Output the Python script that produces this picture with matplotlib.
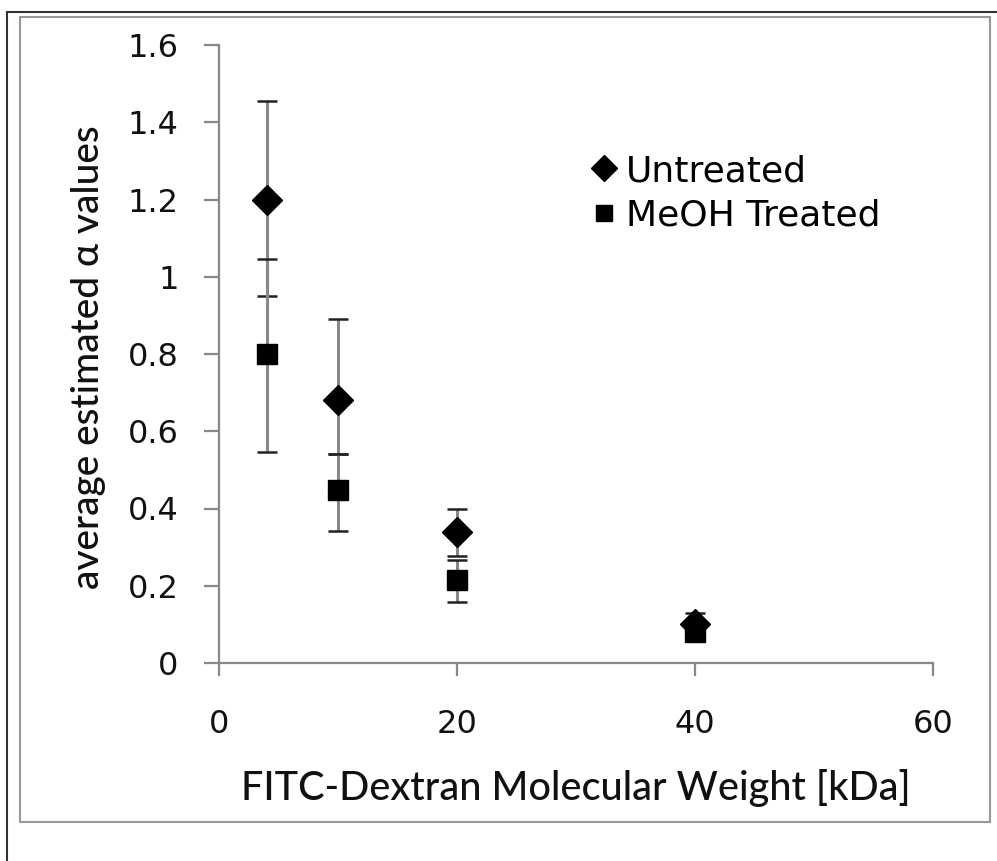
import matplotlib
matplotlib.use("Agg")
import matplotlib.pyplot as plt
from matplotlib.patches import Rectangle
from matplotlib.lines import Line2D

# Data
mw = [4, 10, 20, 40]
untreated = [1.20, 0.68, 0.34, 0.10]
untreated_err_low = [0.25, 0.14, 0.063, 0.03]
untreated_err_high = [0.256, 0.21, 0.06, 0.03]
meoh = [0.80, 0.448, 0.215, 0.08]
meoh_err_low = [0.253, 0.106, 0.057, 0.02]
meoh_err_high = [0.247, 0.093, 0.052, 0.02]
series_labels = ["Untreated", "MeOH Treated"]
xticks = [0, 20, 40, 60]
yticks = [0, 0.2, 0.4, 0.6, 0.8, 1.0, 1.2, 1.4, 1.6]
ytick_labels = ["0", "0.2", "0.4", "0.6", "0.8", "1", "1.2", "1.4", "1.6"]
xlabel = "FITC-Dextran Molecular Weight [kDa]"
ylabel = "average estimated α values"

W, H = 997, 861
fig = plt.figure(figsize=(W / 100, H / 100), dpi=100)
ax = fig.add_axes([219 / W, 1 - 663 / H, (933 - 219) / W, (663 - 45) / H])

# borders
fig.patches.append(Rectangle((7 / W, -0.01), 1.2, 1 - 12 / H + 0.01, transform=fig.transFigure,
                             fill=False, edgecolor="#333333", linewidth=1.5))
fig.patches.append(Rectangle((20 / W, 1 - 822 / H), (990 - 20) / W, (822 - 17) / H,
                             transform=fig.transFigure, fill=False, edgecolor="#999999", linewidth=1.5))

ecol = "#888888"
for y, lo, hi in [(untreated, untreated_err_low, untreated_err_high),
                  (meoh, meoh_err_low, meoh_err_high)]:
    ax.errorbar(mw, y, yerr=[lo, hi], fmt="none", ecolor=ecol, elinewidth=2.2, capsize=0, zorder=2)
    ax.errorbar(mw, y, yerr=[lo, hi], fmt="none", ecolor="#222222", elinewidth=0, capsize=7.5,
                capthick=1.8, zorder=2)

ax.plot(mw, untreated, linestyle="none", marker="D", ms=15.5, color="black", zorder=3)
ax.plot(mw, meoh, linestyle="none", marker="s", ms=15, color="black", zorder=3)

ax.set_xlim(0, 60)
ax.set_ylim(0, 1.6)
ax.set_xticks(xticks)
ax.set_yticks(yticks)
ax.set_yticklabels(ytick_labels)
for s in ["top", "right"]:
    ax.spines[s].set_visible(False)
for s in ["left", "bottom"]:
    ax.spines[s].set_color("#888888")
    ax.spines[s].set_linewidth(1.6)
ax.tick_params(axis="y", length=11, width=1.6, color="#888888", pad=18, labelsize=23, labelcolor="#111111")
ax.tick_params(axis="x", length=9, width=1.6, color="#888888", pad=24, labelsize=23, labelcolor="#111111")
for lab in ax.get_xticklabels() + ax.get_yticklabels():
    lab.set_family("DejaVu Sans")

ax.set_xlabel(xlabel, fontsize=28.5, family="Lato", weight="medium", color="#111111")
ax.set_ylabel(ylabel, fontsize=28, family="Lato", weight="medium", color="#111111")
ax.xaxis.set_label_coords(0.5, -0.203)
ax.yaxis.set_label_coords(-0.183, 0.495)
ax.xaxis.label.set_va("center")
ax.yaxis.label.set_va("center")

handles = [Line2D([], [], linestyle="none", marker="D", ms=13, color="black"),
           Line2D([], [], linestyle="none", marker="s", ms=12, color="black")]
ax.legend(handles, series_labels, loc="upper left", bbox_to_anchor=(593 / W, 1 - 154 / H),
          bbox_transform=fig.transFigure, frameon=False, handlelength=0.6,
          handletextpad=0.3, labelspacing=0.3, borderaxespad=0, borderpad=0,
          prop={"family": "DejaVu Sans", "size": 26})

fig.savefig("out.png", dpi=100)
